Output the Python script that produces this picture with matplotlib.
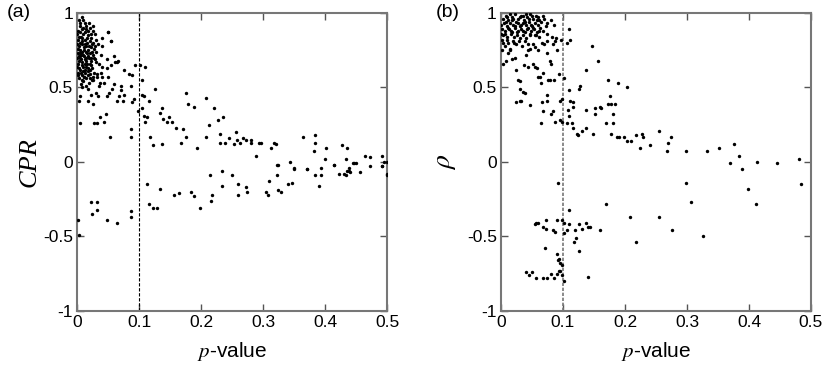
import matplotlib

matplotlib.use("Agg")
import matplotlib.pyplot as plt
from matplotlib.ticker import FixedLocator, FuncFormatter

plt.rcParams["font.family"] = ["Liberation Sans", "DejaVu Sans"]
plt.rcParams["mathtext.fontset"] = "stix"

# panel (a): CPR vs p-value
cpr_p = [
    # dense cluster near p = 0
    0.003, 0.008, 0.012, 0.005, 0.015, 0.002, 0.010, 0.020, 0.025, 0.018,
    0.006, 0.013, 0.001, 0.022, 0.028, 0.030, 0.016, 0.008, 0.003, 0.011,
    0.019, 0.024, 0.027, 0.034, 0.005, 0.014, 0.001, 0.009, 0.021, 0.017,
    0.026, 0.031, 0.004, 0.012, 0.007, 0.002, 0.016, 0.022, 0.029, 0.010,
    0.018, 0.005, 0.024, 0.001, 0.013, 0.008, 0.020, 0.027, 0.003, 0.015,
    0.010, 0.006, 0.019, 0.025, 0.004, 0.010, 0.007, 0.014, 0.002, 0.006,
    0.011, 0.015, 0.003, 0.009, 0.017, 0.021, 0.000, 0.000, 0.000, 0.000,
    0.012, 0.018, 0.023, 0.035, 0.038, 0.032, 0.036, 0.040,
    0.004, 0.009, 0.014, 0.019, 0.007, 0.012, 0.017, 0.023, 0.003, 0.008,
    0.016, 0.020, 0.026, 0.005, 0.012, 0.022, 0.029, 0.004, 0.008, 0.016,
    0.024, 0.003, 0.011, 0.019, 0.027, 0.006, 0.014, 0.020, 0.008, 0.015,
    0.022, 0.003, 0.012, 0.018, 0.026, 0.006, 0.011, 0.021, 0.002, 0.007,
    # rest left of 0.1
    0.050, 0.055, 0.040, 0.026, 0.061, 0.066,
    0.005, 0.027, 0.032, 0.043, 0.037, 0.046, 0.053, 0.087, 0.086, 0.089,
    0.091, 0.087, 0.089, 0.094, 0.075, 0.083, 0.070, 0.071, 0.075, 0.074,
    0.067, 0.065, 0.059, 0.056, 0.051, 0.048, 0.049, 0.048, 0.054, 0.065,
    0.059, 0.040, 0.035, 0.030, 0.022, 0.017, 0.026, 0.034, 0.043, 0.048,
    0.040, 0.049, 0.055, 0.038, 0.030, 0.032, 0.024, 0.017, 0.008, 0.005,
    0.003, 0.015, 0.011,
    # right of 0.1, positive
    0.102, 0.109, 0.105, 0.105, 0.108, 0.116, 0.098, 0.105, 0.108, 0.113,
    0.110, 0.126, 0.117, 0.123, 0.136, 0.137, 0.134, 0.139, 0.145, 0.148,
    0.153, 0.159, 0.170, 0.168, 0.175, 0.176, 0.179, 0.189, 0.194, 0.208,
    0.207, 0.212, 0.221, 0.227, 0.235, 0.231, 0.231, 0.239, 0.245, 0.253,
    0.256, 0.258, 0.263, 0.267, 0.272, 0.280, 0.281, 0.288, 0.293, 0.297,
    0.312, 0.317, 0.320, 0.344, 0.349, 0.323, 0.365, 0.370, 0.382, 0.384,
    0.384, 0.401, 0.399, 0.414, 0.427, 0.435, 0.433, 0.445, 0.449, 0.465,
    0.473, 0.492, 0.495, 0.491, 0.499, 0.435, 0.438, 0.430,
    # right of 0.1, negative
    0.113, 0.116, 0.123, 0.129, 0.133, 0.156, 0.164, 0.183, 0.188, 0.198,
    0.215, 0.218, 0.216, 0.234, 0.234, 0.250, 0.259, 0.260, 0.273, 0.274,
    0.304, 0.308, 0.309, 0.323, 0.324, 0.324, 0.329, 0.340, 0.347, 0.349,
    0.370, 0.384, 0.390, 0.394, 0.394, 0.414, 0.422, 0.433, 0.438, 0.440,
    0.446, 0.456, 0.473, 0.491, 0.499, 0.499,
    # left of 0.1, negative
    0.002, 0.003, 0.023, 0.032, 0.024, 0.032, 0.048, 0.065, 0.086, 0.086,
]
cpr_val = [
    0.95, 0.97, 0.93, 0.91, 0.89, 0.88, 0.86, 0.90, 0.88, 0.85,
    0.84, 0.82, 0.82, 0.83, 0.86, 0.82, 0.80, 0.79, 0.78, 0.77,
    0.78, 0.79, 0.76, 0.79, 0.75, 0.74, 0.73, 0.72, 0.73, 0.71,
    0.72, 0.74, 0.70, 0.69, 0.67, 0.66, 0.66, 0.68, 0.69, 0.64,
    0.63, 0.62, 0.63, 0.60, 0.60, 0.58, 0.59, 0.60, 0.56, 0.56,
    0.54, 0.52, 0.53, 0.55, 0.87, 0.90, 0.81, 0.78, 0.76, 0.72,
    0.75, 0.70, 0.68, 0.61, 0.58, 0.62, 0.64, 0.70, 0.79, 0.86,
    0.66, 0.75, 0.70, 0.66, 0.60, 0.57, 0.53, 0.57,
    0.93, 0.95, 0.91, 0.93, 0.89, 0.87, 0.88, 0.86, 0.84, 0.83,
    0.83, 0.81, 0.80, 0.80, 0.79, 0.77, 0.78, 0.73, 0.74, 0.73,
    0.74, 0.71, 0.71, 0.70, 0.70, 0.69, 0.68, 0.66, 0.65, 0.64,
    0.65, 0.63, 0.62, 0.61, 0.57, 0.60, 0.57, 0.56, 0.58, 0.55,
    0.87, 0.81, 0.83, 0.91, 0.67, 0.68,
    0.26, 0.26, 0.26, 0.27, 0.30, 0.32, 0.17, 0.22, 0.17, 0.40,
    0.42, 0.51, 0.58, 0.65, 0.62, 0.59, 0.51, 0.48, 0.45, 0.41,
    0.44, 0.41, 0.52, 0.49, 0.46, 0.44, 0.57, 0.63, 0.65, 0.67,
    0.71, 0.64, 0.51, 0.46, 0.45, 0.41, 0.39, 0.44, 0.53, 0.69,
    0.78, 0.87, 0.81, 0.72, 0.67, 0.59, 0.55, 0.49, 0.50, 0.44,
    0.41, 0.51, 0.57,
    0.65, 0.64, 0.55, 0.45, 0.44, 0.41, 0.34, 0.36, 0.31, 0.30,
    0.27, 0.49, 0.17, 0.11, 0.12, 0.36, 0.33, 0.29, 0.27, 0.30,
    0.27, 0.23, 0.22, 0.13, 0.17, 0.46, 0.39, 0.37, 0.09, 0.43,
    0.17, 0.25, 0.36, 0.28, 0.30, 0.19, 0.13, 0.13, 0.16, 0.12,
    0.20, 0.15, 0.13, 0.16, 0.15, 0.15, 0.13, 0.04, 0.13, 0.13,
    0.09, 0.13, 0.12, 0.00, -0.04, -0.02, 0.17, -0.05, 0.07, 0.18,
    0.13, 0.09, 0.02, -0.02, 0.11, 0.09, 0.02, -0.01, -0.01, 0.04,
    0.03, 0.04, 0.00, -0.03, -0.08, -0.06, -0.04, -0.08,
    -0.15, -0.28, -0.31, -0.31, -0.18, -0.22, -0.21, -0.20, -0.23, -0.31,
    -0.09, -0.22, -0.26, -0.06, -0.16, -0.09, -0.15, -0.22, -0.17, -0.20,
    -0.20, -0.22, -0.13, -0.09, -0.02, -0.19, -0.20, -0.15, -0.14, -0.05,
    -0.05, -0.09, -0.16, -0.04, -0.09, -0.02, -0.08, -0.09, -0.06, -0.07,
    -0.01, -0.07, -0.03, -0.03, -0.09, 0.00,
    -0.39, -0.49, -0.27, -0.27, -0.35, -0.32, -0.39, -0.41, -0.33, -0.37,
]

# panel (b): rho vs p-value
rho_p = [
    # dense cluster at the top
    0.003, 0.008, 0.012, 0.017, 0.022, 0.027, 0.032, 0.037, 0.042, 0.047,
    0.052, 0.057, 0.062, 0.005, 0.010, 0.015, 0.020, 0.025, 0.030, 0.035,
    0.040, 0.045, 0.050, 0.055, 0.060, 0.065, 0.070, 0.075, 0.002, 0.007,
    0.013, 0.018, 0.023, 0.028, 0.033, 0.038, 0.043, 0.048, 0.053, 0.058,
    0.063, 0.068, 0.004, 0.009, 0.016, 0.021, 0.026, 0.031, 0.036, 0.041,
    0.046, 0.001, 0.011, 0.019, 0.024, 0.029, 0.034, 0.006, 0.014, 0.000,
    0.000, 0.080, 0.085,
    0.010, 0.020, 0.030, 0.040, 0.050, 0.015, 0.035, 0.045, 0.060, 0.067,
    0.008, 0.018, 0.028, 0.038, 0.048, 0.058, 0.012, 0.022, 0.032, 0.042,
    0.052, 0.062, 0.072, 0.006, 0.016, 0.026, 0.036, 0.046, 0.056, 0.003,
    0.009, 0.021, 0.039, 0.044,
    # rest left of 0.1
    0.001, 0.004, 0.008, 0.012, 0.017, 0.023, 0.015, 0.025, 0.028, 0.030,
    0.031, 0.036, 0.024, 0.030, 0.032, 0.039, 0.047, 0.037, 0.044, 0.051,
    0.055, 0.058, 0.060, 0.063, 0.064, 0.068, 0.066, 0.067, 0.064, 0.074,
    0.075, 0.076, 0.079, 0.080, 0.084, 0.087, 0.086, 0.093, 0.095, 0.074,
    0.079, 0.080, 0.084, 0.087, 0.090, 0.096, 0.088, 0.082, 0.074, 0.066,
    0.062, 0.055, 0.052, 0.047, 0.043, 0.040, 0.055, 0.060, 0.070, 0.074,
    # right of 0.1, positive
    0.109, 0.111, 0.106, 0.101, 0.098, 0.095, 0.099, 0.110, 0.112, 0.116,
    0.116, 0.108, 0.109, 0.107, 0.114, 0.116, 0.122, 0.125, 0.131, 0.126,
    0.127, 0.137, 0.137, 0.137, 0.149, 0.146, 0.157, 0.159, 0.161, 0.151,
    0.151, 0.170, 0.173, 0.176, 0.178, 0.173, 0.181, 0.180, 0.178, 0.184,
    0.187, 0.190, 0.188, 0.198, 0.203, 0.203, 0.209, 0.217, 0.228, 0.229,
    0.225, 0.240, 0.255, 0.274, 0.270, 0.267, 0.299, 0.332, 0.351, 0.376,
    0.384, 0.369, 0.388, 0.413, 0.445, 0.480,
    # negative side
    0.092, 0.109, 0.169, 0.208, 0.218, 0.255, 0.276, 0.299, 0.306, 0.326,
    0.399, 0.412, 0.484,
    0.055, 0.057, 0.060, 0.067, 0.072, 0.072, 0.084, 0.087, 0.091, 0.098,
    0.101, 0.102, 0.109, 0.106, 0.119, 0.126, 0.130, 0.137, 0.141, 0.144,
    0.160, 0.117, 0.121, 0.071, 0.126,
    0.040, 0.045, 0.050, 0.057, 0.067, 0.075, 0.081, 0.085, 0.091, 0.094,
    0.098, 0.101, 0.141, 0.090, 0.094, 0.095, 0.098, 0.095, 0.092,
]
rho_val = [
    0.96, 0.98, 0.95, 0.97, 0.99, 0.96, 0.98, 0.95, 0.97, 0.99,
    0.96, 0.98, 0.95, 0.93, 0.91, 0.93, 0.92, 0.94, 0.91, 0.93,
    0.92, 0.94, 0.91, 0.93, 0.92, 0.94, 0.96, 0.93, 0.89, 0.88,
    0.89, 0.87, 0.90, 0.88, 0.89, 0.87, 0.90, 0.88, 0.89, 0.87,
    0.90, 0.88, 0.85, 0.84, 0.86, 0.84, 0.85, 0.83, 0.85, 0.83,
    0.85, 0.82, 0.80, 0.81, 0.79, 0.81, 0.78, 0.78, 0.76, 0.92,
    0.86, 0.95, 0.92,
    0.97, 0.96, 0.97, 0.99, 0.98, 0.99, 0.98, 0.96, 0.97, 0.98,
    0.94, 0.95, 0.93, 0.94, 0.92, 0.95, 0.90, 0.91, 0.92, 0.89,
    0.90, 0.88, 0.91, 0.86, 0.88, 0.87, 0.88, 0.86, 0.85, 0.80,
    0.82, 0.80, 0.81, 0.79,
    0.75, 0.66, 0.68, 0.73, 0.69, 0.70, 0.75, 0.62, 0.55, 0.54,
    0.49, 0.47, 0.40, 0.41, 0.41, 0.46, 0.38, 0.65, 0.64, 0.66,
    0.64, 0.63, 0.57, 0.57, 0.53, 0.60, 0.40, 0.34, 0.26, 0.45,
    0.41, 0.55, 0.55, 0.32, 0.34, 0.27, 0.55, 0.59, 0.41, 0.73,
    0.68, 0.66, 0.79, 0.81, 0.75, 0.82, 0.83, 0.84, 0.86, 0.80,
    0.84, 0.85, 0.79, 0.76, 0.75, 0.72, 0.77, 0.75, 0.79, 0.81,
    0.89, 0.82, 0.80, 0.56, 0.42, 0.28, 0.27, 0.48, 0.41, 0.40,
    0.37, 0.35, 0.31, 0.26, 0.26, 0.23, 0.19, 0.18, 0.21, 0.49,
    0.51, 0.35, 0.62, 0.23, 0.19, 0.78, 0.68, 0.37, 0.36, 0.36,
    0.32, 0.26, 0.55, 0.44, 0.39, 0.39, 0.32, 0.26, 0.19, 0.39,
    0.17, 0.17, 0.53, 0.17, 0.50, 0.14, 0.14, 0.18, 0.19, 0.17,
    0.09, 0.11, 0.21, 0.17, 0.13, 0.07, 0.07, 0.07, 0.09, 0.12,
    0.04, -0.01, -0.05, 0.00, -0.01, 0.02,
    -0.14, -0.32, -0.28, -0.37, -0.54, -0.37, -0.46, -0.14, -0.27, -0.50,
    -0.18, -0.28, -0.15,
    -0.42, -0.41, -0.41, -0.44, -0.39, -0.45, -0.46, -0.47, -0.39, -0.39,
    -0.41, -0.48, -0.42, -0.46, -0.46, -0.42, -0.45, -0.41, -0.44, -0.44,
    -0.46, -0.54, -0.51, -0.58, -0.60,
    -0.74, -0.76, -0.74, -0.78, -0.78, -0.78, -0.75, -0.78, -0.75, -0.73,
    -0.76, -0.80, -0.77, -0.62, -0.65, -0.68, -0.69, -0.73, -0.66,
]

x_ticks = [0, 0.1, 0.2, 0.3, 0.4, 0.5]
y_ticks = [-1, -0.5, 0, 0.5, 1]
threshold = 0.1


def tick_fmt(v, _pos):
    return f"{v:g}"


def style_axes(ax):
    ax.set_xlim(0, 0.5)
    ax.set_ylim(-1, 1)
    ax.xaxis.set_major_locator(FixedLocator(x_ticks))
    ax.yaxis.set_major_locator(FixedLocator(y_ticks))
    ax.xaxis.set_major_formatter(FuncFormatter(tick_fmt))
    ax.yaxis.set_major_formatter(FuncFormatter(tick_fmt))
    ax.tick_params(direction="in", length=5, width=1, color="#555555",
                   top=True, right=True, labelsize=12.5, pad=3)
    for side in ax.spines.values():
        side.set_color("#777777")
        side.set_linewidth(1.5)
    ax.set_xlabel("$p$-value", fontsize=15, labelpad=7)


fig = plt.figure(figsize=(8.3, 3.7), dpi=100)
ax_a = fig.add_axes([0.093, 0.16, 0.3735, 0.805])
ax_b = fig.add_axes([0.6036, 0.16, 0.3735, 0.805])

ax_a.scatter(cpr_p, cpr_val, s=6, marker="o", color="black", linewidths=0, zorder=3)
ax_a.axvline(threshold, color="black", linestyle=(0, (3, 1.5)), linewidth=0.8)
style_axes(ax_a)
ax_a.set_ylabel("CPR", fontsize=19, family="Liberation Serif", style="italic", labelpad=2)

ax_b.scatter(rho_p, rho_val, s=6, marker="o", color="black", linewidths=0, zorder=3)
ax_b.axvline(threshold, color="#777777", linestyle=(0, (2, 1)), linewidth=1.2)
style_axes(ax_b)
ax_b.set_ylabel(r"$\rho$", fontsize=20, labelpad=6)

fig.text(0.008, 0.965, "(a)", fontsize=14, va="center", ha="left")
fig.text(0.525, 0.965, "(b)", fontsize=14, va="center", ha="left")

fig.savefig("out.png", dpi=100)
